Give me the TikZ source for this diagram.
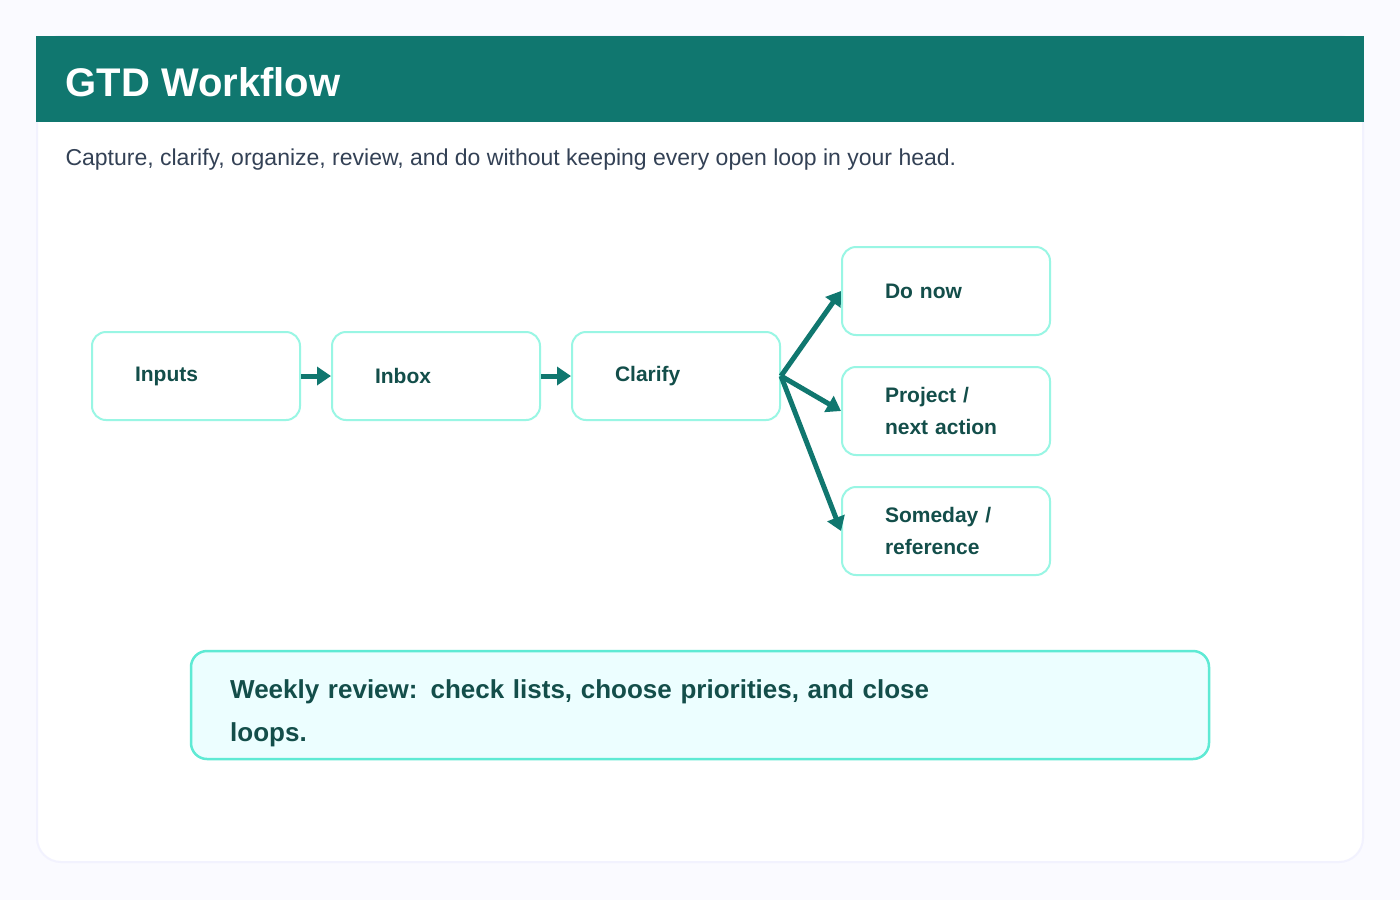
\documentclass[tikz,border=0pt]{standalone}
\usepackage{fontspec}
\setmainfont{Liberation Sans}
\usetikzlibrary{arrows.meta}
\definecolor{teal}{HTML}{10776F}
\definecolor{mint}{HTML}{99F6E4}
\definecolor{deepteal}{HTML}{134E4A}
\definecolor{slate}{HTML}{334155}
\definecolor{pale}{HTML}{ECFEFF}
\definecolor{aqua}{HTML}{5EEAD4}
\tikzset{
  stepbox/.style={draw=mint,line width=2pt,rounded corners=14pt,fill=white,
    minimum width=208pt,minimum height=88pt,anchor=north west,
    text width=170pt,align=left,inner sep=0pt,
    font=\fontsize{21}{32}\selectfont\bfseries,text=deepteal},
  flow/.style={-{Triangle[length=14pt,width=18pt]},line width=5pt,draw=teal}
}
\begin{document}
\begin{tikzpicture}[x=1pt,y=-1pt]
  %achtergrond
	\fill[fill=black!2!blue!2] (0,0) rectangle (1400,900);
  %kaart
	\draw[draw=black!8!blue!5,line width=2pt,fill=white,rounded corners=24pt] (37,36) rectangle (1363,862);
	\fill[teal] (36,36) rectangle (1364,122);
	\node[anchor=west,text=white,font=\fontsize{40}{48}\selectfont\bfseries] (title) at (62,82) {GTD Workflow};
	\node[anchor=west,text=slate,font=\fontsize{23}{28}\selectfont] (sub) at (62,160)
	  {Capture, clarify, organize, review, and do without keeping every open loop in your head.};

  %stappen
	\node[stepbox] (inputs) at (91,331) {\hspace*{24pt}Inputs};
	\node[stepbox] (inbox) at (331,331) {\hspace*{24pt}Inbox};
	\node[stepbox] (clarify) at (571,331) {\hspace*{24pt}Clarify};
	\node[stepbox] (donow) at (841,246) {\hspace*{24pt}Do now};
	\node[stepbox] (project) at (841,366) {\hspace*{24pt}Project /\\\hspace*{24pt}next action};
	\node[stepbox] (someday) at (841,486) {\hspace*{24pt}Someday /\\\hspace*{24pt}reference};

  %pijlen
	\draw[flow] (inputs.east) -- (inbox.west);
	\draw[flow] (inbox.east) -- (clarify.west);
	\draw[flow] (clarify.east) -- (donow.west);
	\draw[flow] (clarify.east) -- (project.west);
	\draw[flow] (clarify.east) -- (someday.west);

  %wekelijkse review
	\draw[draw=aqua,line width=2.5pt,fill=pale,rounded corners=16pt] (191,651) rectangle (1209,759);
	\node[anchor=north west,text width=780pt,align=left,inner sep=0pt,text=deepteal,
	  font=\fontsize{26}{43}\selectfont\bfseries] (review) at (230,679)
	  {Weekly review: check lists, choose priorities, and close loops.};
\end{tikzpicture}
\end{document}
